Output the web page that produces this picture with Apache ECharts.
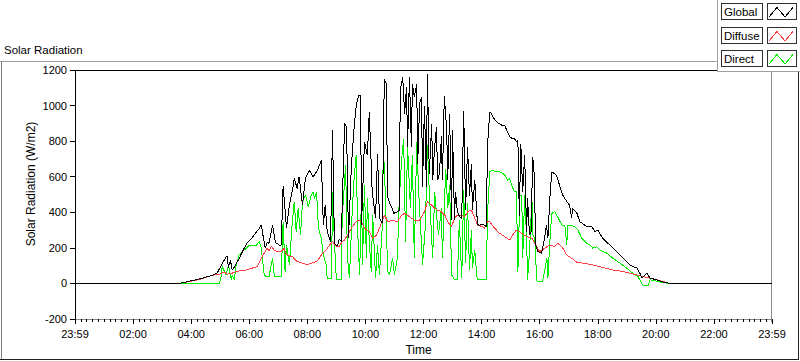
<!DOCTYPE html>
<html><head><meta charset="utf-8">
<script src="https://cdn.jsdelivr.net/npm/echarts@6/dist/echarts.min.js"></script>
<style>html,body{margin:0;padding:0;background:#fff}#c{width:800px;height:361px}#c svg path{shape-rendering:crispEdges}</style>
</head><body><div id="c"></div>
<script>
// ---- data (time in minutes since midnight, value in W/m2) ----
const xTickLabels = ['23:59','02:00','04:00','06:00','08:00','10:00','12:00','14:00','16:00','18:00','20:00','22:00','23:59'];
const legendNames = ['Global','Diffuse','Direct'];
const chartTitle = 'Solar Radiation';
const yAxisName = 'Solar Radiation (W/m2)';
const xAxisName = 'Time';

const globalData = [[0,0],[215,0],[236,12],[256,25],[277,40],[288,50],[294,60],[302,100],[308,130],[314,155],[317,90],[321,130],[325,75],[331,100],[339,140],[348,190],[356,230],[364,250],[372,280],[381,310],[385,330],[389,260],[393,200],[397,230],[401,226],[408,328],[414,230],[422,216],[426,216],[430,550],[437,310],[443,440],[449,520],[453,590],[459,534],[463,600],[470,440],[476,590],[484,636],[492,600],[501,636],[509,692],[513,328],[517,440],[521,292],[528,236],[532,860],[536,226],[542,209],[546,250],[550,236],[557,900],[561,880],[565,254],[571,664],[577,888],[581,1000],[586,1060],[590,1056],[592,328],[598,796],[604,720],[608,964],[614,516],[621,366],[625,730],[629,366],[635,338],[639,1150],[643,1122],[646,489],[650,450],[656,420],[658,394],[664,400],[670,410],[672,1084],[677,1160],[681,954],[685,1104],[687,769],[691,1160],[695,769],[697,1122],[701,1048],[706,1122],[708,674],[712,1010],[716,1048],[718,545],[722,1000],[726,545],[728,1178],[732,618],[737,898],[739,580],[743,769],[747,880],[749,580],[753,618],[757,826],[759,580],[763,1056],[768,860],[770,580],[774,954],[778,356],[780,860],[784,356],[786,516],[790,405],[794,377],[799,366],[803,972],[807,412],[811,769],[815,489],[819,674],[821,412],[826,580],[830,394],[832,330],[836,328],[842,330],[846,328],[850,319],[852,769],[857,964],[861,954],[863,936],[871,908],[877,898],[884,885],[888,888],[892,860],[894,852],[898,825],[904,814],[908,814],[912,796],[915,804],[918,380],[921,786],[925,516],[929,720],[933,292],[935,478],[939,272],[943,292],[945,711],[948,664],[952,216],[956,181],[964,170],[970,254],[974,328],[977,254],[981,478],[985,628],[995,608],[1001,552],[1008,496],[1016,460],[1022,440],[1026,366],[1028,422],[1037,394],[1043,347],[1053,328],[1059,319],[1068,319],[1074,291],[1080,300],[1090,254],[1105,216],[1119,179],[1132,142],[1146,104],[1161,86],[1167,58],[1171,30],[1181,58],[1188,30],[1202,20],[1215,7],[1229,0],[1440,0]];

const diffuseData = [[0,0],[215,0],[236,10],[257,22],[277,40],[288,48],[298,52],[308,63],[315,52],[325,58],[333,67],[339,70],[354,76],[366,86],[377,95],[385,142],[391,170],[397,198],[401,181],[406,209],[411,188],[416,181],[426,181],[432,198],[437,160],[449,151],[459,123],[470,114],[480,104],[488,114],[499,123],[505,142],[511,170],[519,188],[526,216],[532,235],[540,207],[546,209],[552,235],[557,244],[563,272],[573,320],[584,356],[592,347],[598,310],[608,291],[615,254],[623,272],[629,310],[639,384],[646,347],[656,356],[666,347],[675,384],[681,394],[691,375],[701,356],[712,356],[722,403],[728,459],[737,440],[743,422],[749,412],[757,403],[764,384],[770,347],[778,319],[784,366],[790,384],[799,384],[805,375],[811,403],[819,412],[826,366],[832,328],[842,319],[846,310],[852,347],[857,347],[867,310],[877,282],[888,263],[898,244],[904,272],[912,300],[923,282],[933,263],[944,254],[954,207],[960,179],[970,198],[981,216],[991,207],[997,226],[1006,207],[1016,160],[1026,142],[1037,119],[1049,114],[1070,104],[1090,90],[1111,76],[1132,67],[1152,54],[1173,39],[1194,26],[1215,11],[1229,0],[1440,0]];

const directData = [[0,0],[298,0],[302,39],[304,95],[312,48],[317,104],[323,20],[325,48],[329,20],[333,104],[339,160],[346,179],[354,198],[360,216],[366,216],[375,216],[381,235],[385,198],[387,142],[391,48],[395,39],[401,39],[408,142],[412,39],[426,39],[430,347],[434,67],[437,216],[443,104],[449,347],[453,459],[457,291],[461,422],[466,272],[470,459],[476,496],[478,478],[482,431],[488,496],[492,515],[495,478],[499,515],[503,310],[509,254],[513,160],[519,104],[521,30],[530,30],[532,515],[536,235],[540,20],[550,20],[552,366],[559,664],[563,142],[567,30],[573,422],[577,608],[581,720],[584,291],[588,48],[592,515],[594,104],[598,552],[602,142],[604,478],[608,235],[612,67],[615,384],[621,30],[625,216],[629,48],[635,328],[637,776],[641,515],[646,67],[650,50],[656,142],[660,50],[666,142],[670,478],[675,702],[679,814],[683,235],[687,776],[693,422],[697,720],[701,142],[706,795],[710,515],[716,216],[718,104],[724,328],[728,776],[732,515],[739,142],[743,515],[747,384],[751,272],[757,422],[759,142],[766,646],[770,422],[774,552],[778,48],[780,39],[784,20],[790,20],[794,356],[799,30],[803,524],[807,114],[811,450],[815,76],[819,300],[821,86],[826,188],[830,40],[832,20],[850,20],[852,384],[857,630],[863,636],[871,627],[877,627],[884,618],[888,608],[894,580],[898,590],[902,552],[908,515],[912,515],[915,67],[919,496],[923,496],[925,142],[929,496],[933,254],[935,20],[939,179],[944,478],[946,272],[950,254],[954,13],[966,13],[970,67],[975,142],[977,30],[981,235],[985,394],[991,403],[997,375],[1006,328],[1012,328],[1016,216],[1018,328],[1026,328],[1032,319],[1039,300],[1047,254],[1057,226],[1064,216],[1070,198],[1078,207],[1084,188],[1099,170],[1111,142],[1126,114],[1140,86],[1152,58],[1163,39],[1171,0],[1174,-12],[1184,-12],[1188,20],[1202,13],[1215,4],[1229,0],[1440,0]];

// ---- styling ----
const FONT = "'Liberation Sans', Arial, sans-serif";
const seriesColors = {Global:'#000000', Diffuse:'#ff4040', Direct:'#00ee00'};
const dataByName = {Global: globalData, Diffuse: diffuseData, Direct: directData};

const chart = echarts.init(document.getElementById('c'), null, {renderer:'svg', width:800, height:361});

const graphics = [
  // outer panel frame
  {type:'line', shape:{x1:0,y1:61.5,x2:717,y2:61.5}, style:{stroke:'#a0a0a0',lineWidth:1}, z:1},
  {type:'line', shape:{x1:1.5,y1:61,x2:1.5,y2:360}, style:{stroke:'#808080',lineWidth:1}, z:1},
  {type:'line', shape:{x1:0,y1:359.5,x2:799,y2:359.5}, style:{stroke:'#222',lineWidth:1}, z:1},
  {type:'line', shape:{x1:798.5,y1:72,x2:798.5,y2:360}, style:{stroke:'#222',lineWidth:1}, z:1},
  // plot frame (top black, right gray)
  {type:'line', shape:{x1:75,y1:70.5,x2:772,y2:70.5}, style:{stroke:'#000',lineWidth:1}, z:1},
  {type:'line', shape:{x1:771.5,y1:70,x2:771.5,y2:322}, style:{stroke:'#8c8c8c',lineWidth:1}, z:1},
  // y axis name
  {type:'text', x:31, y:184, rotation:Math.PI/2, z:5,
   style:{text:yAxisName, font:'12px ' + FONT, fill:'#000', align:'center', verticalAlign:'middle', textAlign:'center', textVerticalAlign:'middle'}},
  // legend background
  {type:'rect', shape:{x:717,y:0,width:83,height:72}, style:{fill:'#fff',stroke:null}, z:20},
  {type:'line', shape:{x1:717.5,y1:0,x2:717.5,y2:72}, style:{stroke:'#a0a0a0',lineWidth:1}, z:21},
  {type:'line', shape:{x1:717,y1:71.5,x2:800,y2:71.5}, style:{stroke:'#a0a0a0',lineWidth:1}, z:21}
];
const legendTops = [3, 27, 50];
legendNames.forEach((n, i) => {
  const y0 = legendTops[i];
  graphics.push({type:'rect', shape:{x:721.5,y:y0+0.5,width:41,height:16}, style:{fill:'#fff',stroke:'#303030',lineWidth:1}, z:22});
  graphics.push({type:'text', x:724, y:y0+9, z:23,
    style:{text:n, font:'11.5px ' + FONT, fill:'#000', align:'left', verticalAlign:'middle', textAlign:'left', textVerticalAlign:'middle'}});
  graphics.push({type:'rect', shape:{x:767.5,y:y0+0.5,width:29,height:16}, style:{fill:'#fff',stroke:'#303030',lineWidth:1}, z:22});
  graphics.push({type:'polyline', shape:{points:[[769,y0+14],[777,y0+4.5],[785,y0+14],[793,y0+4.5]]}, style:{stroke:seriesColors[n],lineWidth:1,fill:null}, z:23});
});

const drawOrder = ['Direct','Diffuse','Global'];

chart.setOption({
  animation:false,
  backgroundColor:'#fff',
  textStyle:{fontFamily:FONT},
  title:{text:chartTitle, left:4, top:44, padding:0, textStyle:{fontSize:11.5, fontWeight:'normal', color:'#000', fontFamily:FONT}},
  grid:{left:75, top:70, width:697, height:251.5, show:false, containLabel:false},
  xAxis:{type:'value', min:0, max:1440, interval:120,
    axisLine:{show:true, onZero:false, lineStyle:{color:'#8c8c8c', width:1}},
    axisTick:{show:true, length:5, lineStyle:{color:'#000'}},
    minorTick:{show:true, splitNumber:10, length:3, lineStyle:{color:'#000'}},
    axisLabel:{margin:9, fontSize:11, color:'#000', fontFamily:FONT, formatter:(v)=>xTickLabels[Math.round(v/120)]},
    splitLine:{show:false},
    name:xAxisName, nameLocation:'middle', nameGap:25,
    nameTextStyle:{fontSize:12, color:'#000', fontFamily:FONT, padding:[0,10,0,0]}},
  yAxis:{type:'value', min:-200, max:1200, interval:200,
    axisLine:{show:true, onZero:false, lineStyle:{color:'#000', width:1}},
    axisTick:{show:true, length:5, lineStyle:{color:'#000'}},
    axisLabel:{margin:8, fontSize:11, color:'#000', fontFamily:FONT, formatter:(v)=>String(v)},
    splitLine:{show:false}},
  graphic:graphics,
  series: drawOrder.map(n => ({
    name:n, type:'line', data:dataByName[n], showSymbol:false, symbol:'none', silent:true,
    lineStyle:{color:seriesColors[n], width:1}, itemStyle:{color:seriesColors[n]}, z:2
  }))
});
</script></body></html>
